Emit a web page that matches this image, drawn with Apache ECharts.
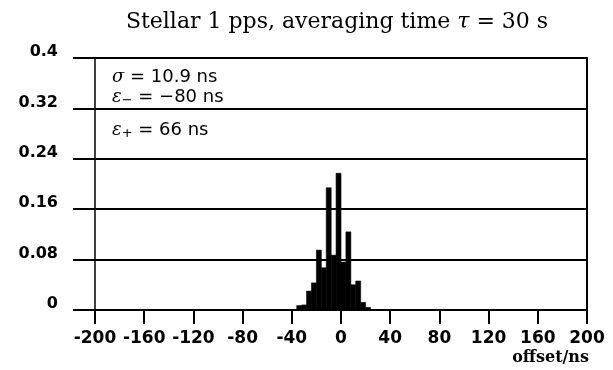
<!DOCTYPE html>
<html>
<head>
<meta charset="utf-8">
<script src="https://cdn.jsdelivr.net/npm/echarts@6/dist/echarts.min.js"></script>
<style>
html,body{margin:0;padding:0;background:#fff;}
#chart{width:613px;height:370px;}
</style>
</head>
<body>
<div id="chart"></div>
<script>
// ---- data ----
const binStarts = [-36, -32, -28, -24, -20, -16, -12, -8, -4, 0, 4, 8, 12, 16, 20];
const binWidth = 4;
const freqs = [0.007, 0.008, 0.03, 0.043, 0.095, 0.067, 0.194, 0.087, 0.217, 0.076, 0.124, 0.04, 0.046, 0.012, 0.004];
const yTickLabels = ['0', '0.08', '0.16', '0.24', '0.32', '0.4'];
const xTickLabels = ['-200', '-160', '-120', '-80', '-40', '0', '40', '80', '120', '160', '200'];
const titleText = 'Stellar 1 pps, averaging time {i|τ} = 30 s';
const xName = 'offset/ns';
const statsLines = ['{i|σ} = 10.9 ns', '{i|ε}{s|−} = −80 ns', '{i|ε}{s|+} = 66 ns'];

const histData = binStarts.map((b, i) => [b, b + binWidth, freqs[i]]);

const chart = echarts.init(document.getElementById('chart'), null, {renderer: 'canvas'});
const sans = 'DejaVu Sans';
const serif = 'DejaVu Serif';

const option = {
  animation: false,
  backgroundColor: '#fff',
  grid: {left: 95, right: 26, top: 58, bottom: 60},
  xAxis: {
    type: 'value', min: -200, max: 200, interval: 40,
    axisLine: {show: true, onZero: false, lineStyle: {color: '#000', width: 2}},
    axisTick: {show: true, length: 14, lineStyle: {color: '#000', width: 2}},
    axisLabel: {
      margin: 20, color: '#000', fontFamily: sans, fontWeight: 'bold', fontSize: 17,
      formatter: v => xTickLabels[Math.round((v + 200) / 40)]
    },
    splitLine: {show: false}
  },
  yAxis: [{
    type: 'value', min: 0, max: 0.4, interval: 0.08,
    axisLine: {show: true, onZero: false, lineStyle: {color: '#000', width: 1.5}},
    axisTick: {show: true, length: 22, lineStyle: {color: '#000', width: 2}},
    axisLabel: {
      margin: 37, color: '#000', fontFamily: sans, fontWeight: 'bold', fontSize: 16,
      verticalAlign: 'bottom', lineHeight: 12,
      formatter: v => yTickLabels[Math.round(v / 0.08)]
    },
    splitLine: {show: true, lineStyle: {color: '#000', width: 2}}
  }, {
    type: 'value', min: 0, max: 0.4, interval: 0.08, position: 'right',
    axisLine: {show: true, onZero: false, lineStyle: {color: '#000', width: 2}},
    axisTick: {show: false}, axisLabel: {show: false}, splitLine: {show: false}
  }],
  series: [{
    type: 'custom',
    data: histData,
    renderItem: (params, api) => {
      const p0 = api.coord([api.value(0), api.value(2)]);
      const p1 = api.coord([api.value(1), 0]);
      return {
        type: 'rect',
        shape: {x: p0[0], y: p0[1], width: p1[0] - p0[0], height: p1[1] - p0[1]},
        style: {fill: '#000', stroke: '#000', lineWidth: 0.6}
      };
    }
  }],
  graphic: [
    {
      type: 'text', x: 337, y: 22,
      style: {
        text: titleText, fill: '#000', font: '22px "DejaVu Serif"',
        align: 'center', verticalAlign: 'middle',
        rich: {i: {fontFamily: serif, fontStyle: 'italic', fontSize: 22}}
      }
    },
    {
      type: 'text', x: 589, y: 358,
      style: {text: xName, fill: '#000', font: 'bold 16px "DejaVu Serif"', align: 'right', verticalAlign: 'middle'}
    },
    ...statsLines.map((t, k) => ({
      type: 'text', x: 112, y: [77, 97, 130][k],
      style: {
        text: t, fill: '#000', font: '18px "DejaVu Sans"', verticalAlign: 'middle',
        rich: {
          i: {fontFamily: serif, fontStyle: 'italic', fontSize: 18},
          s: {fontFamily: sans, fontSize: 13, verticalAlign: 'bottom', padding: [7, 0, 0, 0]}
        }
      }
    }))
  ]
};
chart.setOption(option);
</script>
</body>
</html>
